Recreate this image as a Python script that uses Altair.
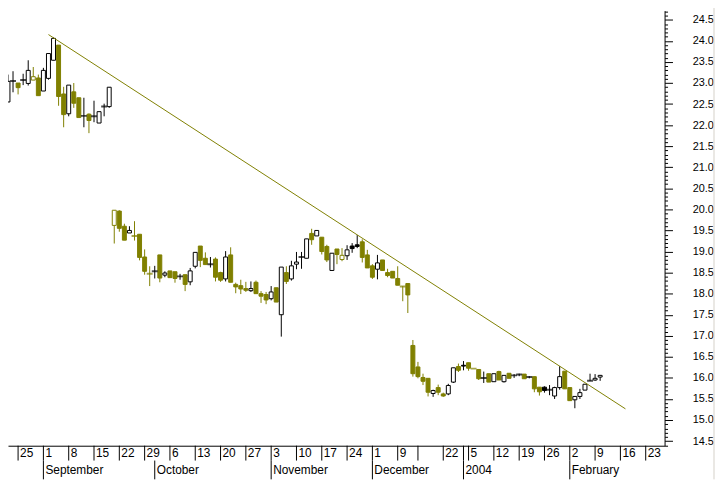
import altair as alt
import numpy as np
import pandas as pd

# ---- candle data (trading-day index, O/H/L/C) ----
IDX = list(range(3, 121))
OPEN = [22.55, 23.05, 23.00, 23.07, 22.99, 23.07, 23.12, 22.81, 23.11, 23.54,
        23.90, 22.74, 22.27, 22.79, 22.65, 22.22, 22.26, 22.21, 22.05, 22.44,
        22.44, 19.62, 19.96, 19.60, 19.44, 19.37, 19.41, 18.87, 18.47, 18.53,
        18.92, 18.44, 18.54, 18.52, 18.41, 18.45, 18.28, 18.65, 19.13, 18.84,
        18.70, 18.82, 18.50, 18.35, 18.92, 18.22, 18.19, 18.12, 18.07, 18.27,
        18.00, 17.98, 17.88, 18.14, 17.50, 18.50, 18.35, 18.70, 18.87, 18.84,
        19.43, 19.37, 19.34, 19.12, 18.55, 19.06, 18.81, 18.90, 19.13, 19.16,
        19.23, 18.92, 18.66, 18.58, 18.80, 18.50, 18.53, 18.36, 18.17, 18.24,
        16.77, 16.26, 16.01, 15.99, 15.63, 15.77, 15.62, 15.62, 15.90, 16.27,
        16.30, 16.36, 16.22, 16.20, 16.00, 16.10, 15.91, 16.15, 15.91, 16.11,
        16.06, 16.08, 16.09, 16.02, 16.03, 15.78, 15.78, 15.72, 15.57, 15.77,
        16.16, 15.77, 15.48, 15.56, 15.71, 15.93, 15.95, 16.02]
HIGH = [23.20, 23.28, 23.00, 23.22, 23.54, 23.38, 23.20, 23.36, 23.70, 24.08,
        23.90, 22.91, 22.95, 23.00, 22.65, 22.65, 22.28, 22.58, 22.32, 22.51,
        22.90, 19.98, 19.98, 19.66, 19.60, 19.72, 19.41, 19.05, 18.65, 18.66,
        18.92, 18.53, 18.54, 18.52, 18.47, 18.45, 18.61, 18.98, 19.13, 18.98,
        18.87, 18.86, 18.52, 19.01, 19.10, 18.26, 18.33, 18.28, 18.29, 18.31,
        18.06, 18.04, 18.18, 18.14, 18.63, 18.65, 18.78, 18.99, 18.99, 19.30,
        19.54, 19.50, 19.34, 19.16, 18.96, 19.06, 19.08, 19.15, 19.20, 19.39,
        19.29, 19.04, 18.70, 18.92, 18.80, 18.59, 18.53, 18.65, 18.18, 18.24,
        16.90, 16.38, 16.10, 15.99, 15.72, 15.84, 15.65, 15.86, 16.24, 16.34,
        16.40, 16.36, 16.22, 16.20, 16.15, 16.10, 16.10, 16.17, 16.06, 16.11,
        16.09, 16.10, 16.09, 16.04, 16.03, 15.78, 15.80, 15.83, 15.79, 16.28,
        16.16, 15.77, 15.56, 15.74, 15.85, 16.10, 16.09, 16.07]
LOW = [22.55, 22.78, 22.73, 22.95, 22.94, 23.07, 22.70, 22.81, 23.08, 23.54,
       22.46, 21.95, 22.21, 22.41, 22.18, 21.95, 21.81, 22.07, 22.05, 22.21,
       22.41, 19.19, 19.47, 19.27, 19.44, 19.26, 18.79, 18.45, 18.18, 18.36,
       18.27, 18.39, 18.38, 18.26, 18.33, 18.06, 18.20, 18.60, 18.63, 18.69,
       18.62, 18.29, 18.28, 18.29, 18.27, 18.01, 17.99, 18.04, 18.04, 18.00,
       17.78, 17.75, 17.84, 17.80, 16.98, 18.23, 18.31, 18.58, 18.59, 18.84,
       19.16, 19.37, 18.93, 18.75, 18.55, 18.70, 18.77, 18.80, 18.97, 19.08,
       18.74, 18.61, 18.35, 18.34, 18.55, 18.39, 18.37, 18.20, 17.82, 17.54,
       16.03, 15.99, 15.83, 15.56, 15.55, 15.59, 15.55, 15.59, 15.88, 16.14,
       16.18, 16.17, 16.22, 15.95, 15.88, 15.90, 15.91, 15.95, 15.89, 15.99,
       16.00, 16.04, 15.98, 15.99, 15.66, 15.58, 15.65, 15.59, 15.50, 15.72,
       15.74, 15.46, 15.28, 15.50, 15.71, 15.93, 15.93, 15.93]
CLOSE = [23.04, 23.05, 22.89, 23.07, 23.30, 23.15, 22.70, 23.30, 23.70, 24.06,
         22.68, 22.25, 22.95, 22.52, 22.18, 22.22, 22.11, 22.21, 22.32, 22.44,
         22.90, 19.98, 19.55, 19.27, 19.50, 19.37, 18.86, 18.53, 18.47, 18.53,
         18.37, 18.49, 18.38, 18.36, 18.41, 18.22, 18.54, 18.98, 18.79, 18.69,
         18.70, 18.39, 18.32, 18.87, 18.27, 18.16, 18.11, 18.08, 18.12, 18.00,
         17.94, 17.85, 18.04, 17.80, 18.63, 18.29, 18.66, 18.75, 18.87, 19.30,
         19.28, 19.50, 19.00, 18.80, 18.96, 18.93, 18.91, 19.04, 19.07, 19.12,
         18.86, 18.61, 18.39, 18.73, 18.55, 18.43, 18.37, 18.20, 18.17, 17.97,
         16.10, 16.03, 15.92, 15.66, 15.70, 15.66, 15.57, 15.82, 16.24, 16.18,
         16.28, 16.23, 16.22, 15.98, 16.00, 15.90, 16.10, 15.95, 16.06, 15.99,
         16.06, 16.08, 15.98, 16.02, 15.74, 15.67, 15.70, 15.72, 15.77, 16.03,
         15.74, 15.46, 15.56, 15.65, 15.85, 15.93, 15.99, 16.06]

# ---- trendline (two anchor points) ----
TREND_IDX = [11, 125]
TREND_VAL = [24.15, 15.265]

# ---- x axis labels ----
WEEK_IDX = [0, 5, 10, 15, 20, 25, 30, 35, 40, 45, 50, 55, 60, 65, 70, 75, 80,
            84, 89, 93, 94, 99, 104, 109, 114, 119, 124, 129]
WEEK_LABELS = ["18", "25", "1", "8", "15", "22", "29", "6", "13", "20", "27",
               "3", "10", "17", "24", "1", "9", "", "22", "", "5", "12", "19",
               "26", "2", "9", "16", "23"]
MONTH_IDX = [10, 32, 55, 75, 93, 114]
MONTH_LABELS = ["September", "October", "November", "December", "2004", "February"]

# ---- y axis ticks (every 0.1, labelled every 0.5) ----
Y_TICKS = [round(14.4 + 0.1 * i, 1) for i in range(104)]

OLIVE = "#808000"
W, H = 664, 440

df = pd.DataFrame(dict(idx=IDX, open=OPEN, high=HIGH, low=LOW, close=CLOSE))
prev = df["close"].shift(1).fillna(df["open"])
df["col"] = np.where(df["close"] >= prev, "black", OLIVE)
df["fillc"] = np.where(df["close"] > df["open"], "white", df["col"])

xs = alt.Scale(domain=[3.983, 131.75], nice=False, zero=False)
ys = alt.Scale(domain=[14.39, 24.718], nice=False, zero=False)

MAJOR_TEST = "abs(datum.value * 2 - round(datum.value * 2)) < 0.001"
X_AXIS = alt.Axis(title=None, domain=True, domainColor="black", domainWidth=1,
                  ticks=False, labels=False, grid=False)
Y_AXIS = alt.Axis(orient="right", title=None, values=Y_TICKS, grid=False,
                  domain=True, domainColor="black", domainWidth=1,
                  tickColor="black", tickWidth=1,
                  tickSize={"condition": {"test": MAJOR_TEST, "value": 8}, "value": 3},
                  labelExpr=f"({MAJOR_TEST}) ? format(datum.value, '.1f') : ''",
                  labelFont="Liberation Sans", labelFontSize=11, labelColor="black",
                  labelAlign="left", labelBaseline="middle", labelPadding=20,
                  labelOverlap=False, labelFlush=False, labelBound=False)

X = alt.X("idx:Q", scale=xs, axis=X_AXIS)

base = alt.Chart(df)
wicks = base.mark_rule(strokeWidth=1, clip=True).encode(
    x=X,
    y=alt.Y("low:Q", scale=ys, axis=Y_AXIS),
    y2="high:Q",
    color=alt.Color("col:N", scale=None),
)
bodies = base.transform_filter("datum.open != datum.close").mark_bar(
    size=4, strokeWidth=1, clip=True
).encode(
    x=X,
    y=alt.Y("open:Q", scale=ys, axis=Y_AXIS),
    y2="close:Q",
    fill=alt.Fill("fillc:N", scale=None),
    stroke=alt.Stroke("col:N", scale=None),
)
doji = base.transform_filter("datum.open == datum.close").mark_tick(
    orient="horizontal", thickness=2, size=6, clip=True
).encode(
    x=X,
    y=alt.Y("close:Q", scale=ys, axis=Y_AXIS),
    color=alt.Color("col:N", scale=None),
)

trend_df = pd.DataFrame(dict(idx=TREND_IDX, val=TREND_VAL))
trend = alt.Chart(trend_df).mark_line(color=OLIVE, strokeWidth=1, clip=True).encode(
    x=X, y=alt.Y("val:Q", scale=ys, axis=Y_AXIS)
)

weeks = pd.DataFrame(dict(idx=WEEK_IDX, label=WEEK_LABELS))
months = pd.DataFrame(dict(idx=MONTH_IDX, label=MONTH_LABELS))

wsep = alt.Chart(weeks).mark_rule(color="black", strokeWidth=1).encode(
    x=X, y=alt.value(H), y2=alt.value(H + 15)
)
wtext = alt.Chart(weeks).mark_text(
    align="left", baseline="alphabetic", dx=2, font="Liberation Sans",
    fontSize=12, color="black"
).encode(x=X, y=alt.value(H + 11.5), text="label:N")
msep = alt.Chart(months).mark_rule(color="black", strokeWidth=1).encode(
    x=X, y=alt.value(H + 15), y2=alt.value(H + 34)
)
mtext = alt.Chart(months).mark_text(
    align="left", baseline="alphabetic", dx=2, font="Liberation Sans",
    fontSize=12, color="black"
).encode(x=X, y=alt.value(H + 28.7), text="label:N")

border = alt.Chart(pd.DataFrame({"a": [0]})).mark_rule(color="#d4d0c8", strokeWidth=1).encode(
    x=alt.value(W + 50), y=alt.value(-8), y2=alt.value(H + 34)
)

chart = alt.layer(wicks, bodies, doji, trend, wsep, wtext, msep, mtext, border).properties(
    width=W, height=H,
    padding={"left": 0, "top": 0, "right": 51, "bottom": 33},
    autosize=alt.AutoSizeParams(type="none"),
    background="white",
).configure_view(stroke=None)

chart.save("out.html", embed_options={"renderer": "svg", "actions": False})
